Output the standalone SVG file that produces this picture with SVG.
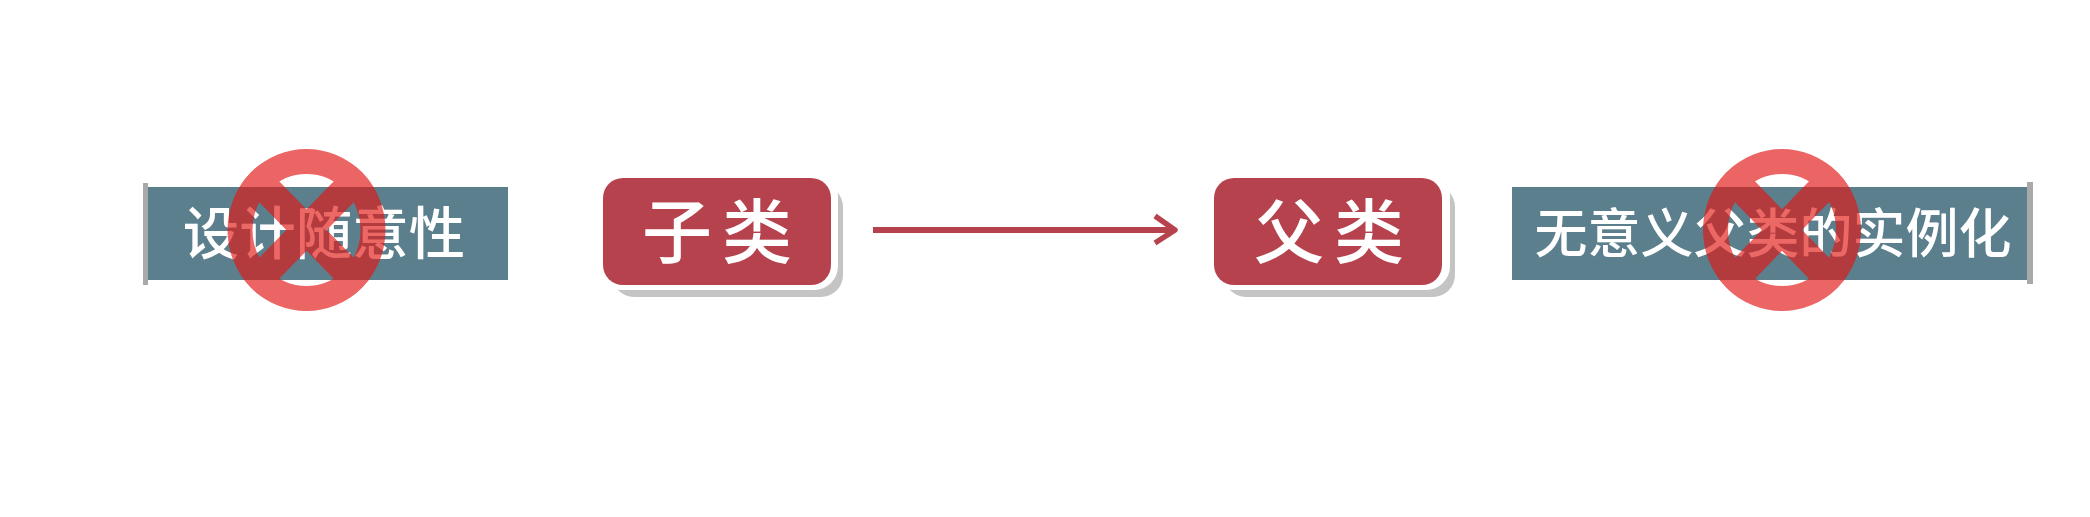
<svg xmlns="http://www.w3.org/2000/svg" width="2090" height="517" viewBox="0 0 2090 517">
<style>
text{font-family:"Noto Sans CJK SC","Liberation Sans",sans-serif;font-weight:500;fill:#fff;text-anchor:middle}
.band{fill:#5b7f8d}
.bar{fill:#a9a9a9}
.node{fill:#b6434e}
.halo{fill:#fff}
.shadow{fill:#c4c4c4}
.no{opacity:.65}
.no ellipse{fill:none;stroke:#e21614;stroke-width:25}
.no path{fill:none;stroke:#e21614;stroke-width:29}
.soft{filter:url(#soft)}
</style>
<defs>
<filter id="soft" filterUnits="userSpaceOnUse" x="0" y="0" width="2090" height="517"><feGaussianBlur stdDeviation="0.7"/></filter>
<clipPath id="c1"><ellipse cx="306.500" cy="230" rx="79" ry="81"/></clipPath>
<clipPath id="c2"><ellipse cx="1782" cy="230" rx="79" ry="81"/></clipPath>
</defs>
<rect width="2090" height="517" fill="#fff"/>
<g id="node-design" class="soft">
<rect class="band" x="147" y="187" width="361" height="93"/>
<rect class="bar" x="143" y="183" width="5" height="102"/>
<text x="324" y="254" font-size="56.500">设计随意性</text>
<g class="no"><ellipse cx="306.500" cy="230" rx="66.500" ry="68.500"/><path clip-path="url(#c1)" d="M248 170L365 290M365 170L248 290"/></g>
</g>
<g id="node-child" class="soft">
<rect class="shadow" x="612" y="185" width="231" height="112" rx="22"/>
<rect class="halo" x="597" y="172" width="241" height="118" rx="24"/>
<rect class="node" x="603" y="178" width="228" height="107" rx="20"/>
<text x="722" y="258" font-size="70" letter-spacing="10">子类</text>
</g>
<g id="connectors" class="soft">
<path d="M873 230H1172" fill="none" stroke="#b6434e" stroke-width="6"/>
<path d="M1155 216L1175 230L1155 243" fill="none" stroke="#b6434e" stroke-width="5.500" stroke-linejoin="round"/>
</g>
<g id="node-parent" class="soft">
<rect class="shadow" x="1224" y="185" width="231" height="112" rx="22"/>
<rect class="halo" x="1208" y="172" width="242" height="118" rx="24"/>
<rect class="node" x="1214" y="178" width="228" height="107" rx="20"/>
<text x="1334" y="258" font-size="70" letter-spacing="10">父类</text>
</g>
<g id="node-instance" class="soft">
<rect class="band" x="1512" y="187" width="516" height="93"/>
<rect class="bar" x="2027" y="182" width="6" height="102"/>
<text x="1773" y="253" font-size="53">无意义父类的实例化</text>
<g class="no"><ellipse cx="1782" cy="230" rx="66.500" ry="68.500"/><path clip-path="url(#c2)" d="M1724 170L1840 290M1840 170L1724 290"/></g>
</g>
</svg>
